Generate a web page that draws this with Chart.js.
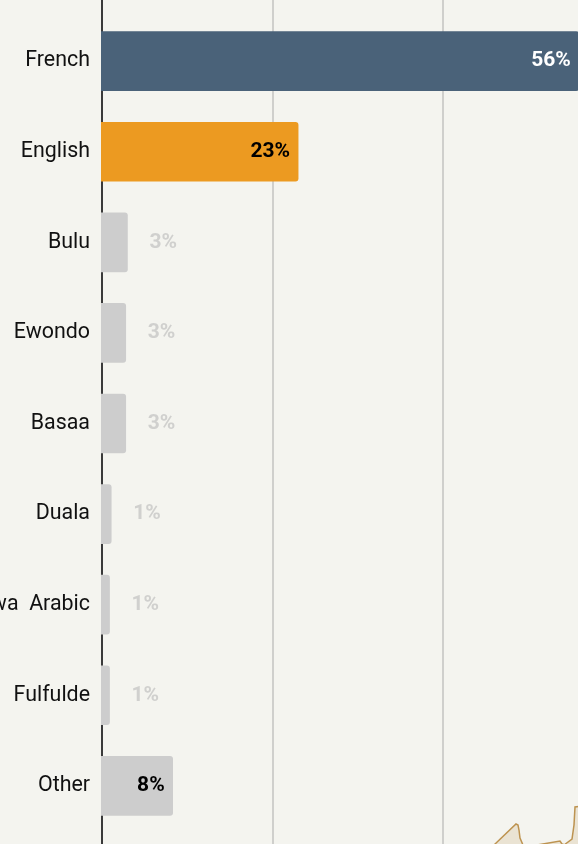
<!DOCTYPE html>
<html>
<head>
<meta charset="utf-8">
<title>Languages</title>
<style>
  html, body { margin: 0; padding: 0; width: 578px; height: 844px; overflow: hidden; background: #f4f4ef; }
  canvas { display: block; }
</style>
<script src="https://cdn.jsdelivr.net/npm/chart.js@4"></script>
</head>
<body>
<canvas id="chart" width="640" height="847"></canvas>
<script>
// Donnees
const languages = ["French", "English", "Bulu", "Ewondo", "Basaa", "Duala", "Shuwa  Arabic", "Fulfulde", "Other"];
const shares = [56, 23.1, 3.1, 2.9, 2.9, 1.2, 1.0, 1.0, 8.4];
const shareLabels = ["56%", "23%", "3%", "3%", "3%", "1%", "1%", "1%", "8%"];
const barColors = ["#4a6279", "#ec9a21", "#cdcdcd", "#cdcdcd", "#cdcdcd", "#cdcdcd", "#cdcdcd", "#cdcdcd", "#cdcdcd"];
const labelColors = ["#ffffff", "#000000", "#d0d0ce", "#d0d0ce", "#d0d0ce", "#d0d0ce", "#d0d0ce", "#d0d0ce", "#000000"];
const insideBar = [true, true, false, false, false, false, false, false, true];
const gridTicks = [20, 40];

// Axe et grille sur toute la hauteur de la page
const fullHeightLines = {
  id: "fullHeightLines",
  beforeDatasetsDraw(chart) {
    const { ctx, scales: { x } } = chart;
    ctx.save();
    ctx.lineWidth = 2;
    ctx.strokeStyle = "#cfcfcc";
    gridTicks.forEach((tick) => {
      const px = Math.round(x.getPixelForValue(tick));
      ctx.beginPath();
      ctx.moveTo(px + 1, 0);
      ctx.lineTo(px + 1, chart.height);
      ctx.stroke();
    });
    ctx.strokeStyle = "#3a3a3a";
    const zero = Math.round(x.getPixelForValue(0));
    ctx.beginPath();
    ctx.moveTo(zero + 1, 0);
    ctx.lineTo(zero + 1, chart.height);
    ctx.stroke();
    ctx.restore();
  },
};

// Pourcentages dans ou a cote des barres
const shareValues = {
  id: "shareValues",
  afterDatasetsDraw(chart) {
    const { ctx } = chart;
    ctx.save();
    ctx.font = "bold 21px Roboto";
    ctx.textBaseline = "middle";
    chart.getDatasetMeta(0).data.forEach((bar, i) => {
      ctx.fillStyle = labelColors[i];
      if (insideBar[i]) {
        ctx.textAlign = "right";
        ctx.fillText(shareLabels[i], bar.x - 8, bar.y);
      } else {
        ctx.textAlign = "left";
        ctx.fillText(shareLabels[i], bar.x + 22, bar.y);
      }
    });
    ctx.restore();
  },
};

// Bout de carte en bas a droite
const mapCorner = {
  id: "mapCorner",
  afterDraw(chart) {
    const { ctx } = chart;
    ctx.save();
    ctx.fillStyle = "#eae3d3";
    ctx.strokeStyle = "#bd9350";
    ctx.lineWidth = 1.5;
    ctx.beginPath();
    ctx.moveTo(494, 845);
    ctx.lineTo(516, 824);
    ctx.lineTo(518, 825);
    ctx.lineTo(519, 830);
    ctx.lineTo(520, 838);
    ctx.lineTo(523, 845);
    ctx.closePath();
    ctx.fill();
    ctx.stroke();
    ctx.beginPath();
    ctx.moveTo(537, 845);
    ctx.lineTo(560, 841);
    ctx.lineTo(562, 844);
    ctx.lineTo(565, 845);
    ctx.closePath();
    ctx.fill();
    ctx.stroke();
    ctx.beginPath();
    ctx.moveTo(564, 845);
    ctx.lineTo(572, 839);
    ctx.lineTo(574, 825);
    ctx.lineTo(575, 807);
    ctx.lineTo(582, 806);
    ctx.lineTo(582, 845);
    ctx.closePath();
    ctx.fill();
    ctx.stroke();
    ctx.restore();
  },
};

new Chart(document.getElementById("chart"), {
  type: "bar",
  data: {
    labels: languages,
    datasets: [
      {
        data: shares,
        backgroundColor: barColors,
        barThickness: 59,
        borderRadius: { topLeft: 0, bottomLeft: 0, topRight: 3, bottomRight: 3 },
        borderSkipped: false,
      },
    ],
  },
  options: {
    indexAxis: "y",
    responsive: false,
    animation: false,
    layout: { padding: { top: 10, bottom: 4, right: 27 } },
    plugins: { legend: { display: false }, tooltip: { enabled: false } },
    scales: {
      x: { display: false, min: 0, max: 60 },
      y: {
        grid: { display: false },
        border: { display: false },
        ticks: {
          autoSkip: false,
          padding: 3,
          color: "#111111",
          font: { family: "Roboto", size: 21.4 },
        },
        afterFit(scale) {
          scale.width = 101;
        },
      },
    },
  },
  plugins: [fullHeightLines, shareValues, mapCorner],
});
</script>
</body>
</html>
